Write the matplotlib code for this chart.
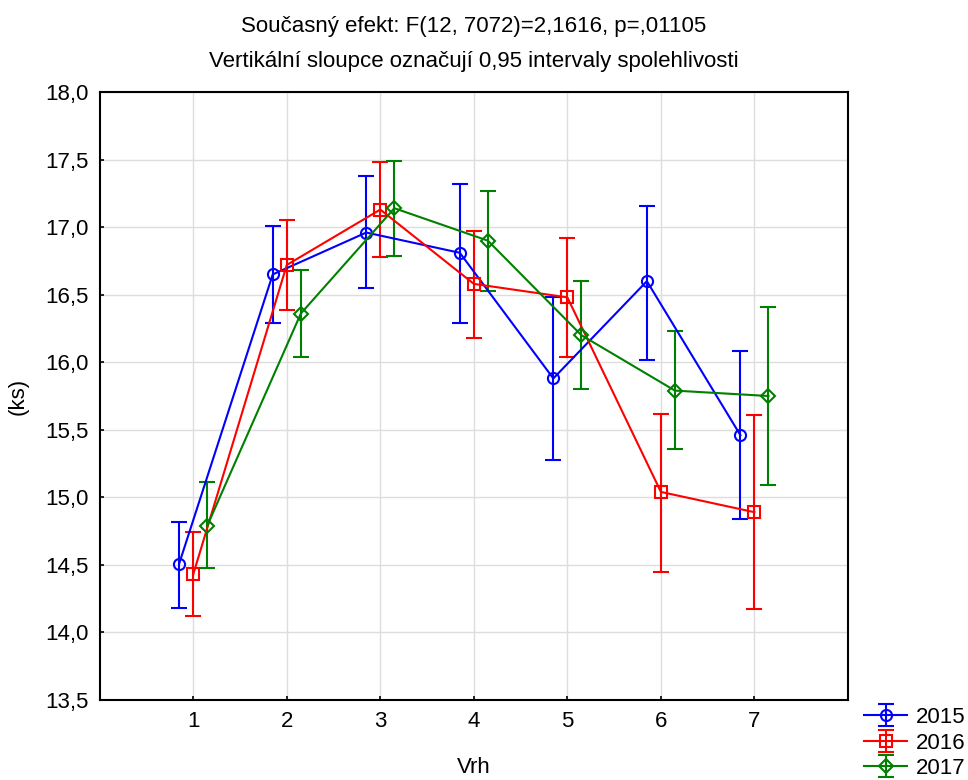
import matplotlib.pyplot as plt
import numpy as np

plt.rcParams['font.family'] = ['Liberation Sans', 'DejaVu Sans']

# Vrh (throw) categories
throws = [1, 2, 3, 4, 5, 6, 7]

# means and 0.95 confidence limits per year
mean_2015 = [14.51, 16.65, 16.96, 16.81, 15.88, 16.60, 15.46]
upper_2015 = [14.82, 17.01, 17.38, 17.32, 16.48, 17.16, 16.08]
lower_2015 = [14.18, 16.29, 16.55, 16.29, 15.28, 16.02, 14.84]

mean_2016 = [14.43, 16.72, 17.13, 16.58, 16.48, 15.04, 14.89]
upper_2016 = [14.74, 17.05, 17.48, 16.97, 16.92, 15.62, 15.61]
lower_2016 = [14.12, 16.39, 16.78, 16.18, 16.04, 14.45, 14.17]

mean_2017 = [14.79, 16.36, 17.14, 16.90, 16.20, 15.79, 15.75]
upper_2017 = [15.11, 16.68, 17.49, 17.27, 16.60, 16.23, 16.41]
lower_2017 = [14.48, 16.04, 16.79, 16.53, 15.80, 15.36, 15.09]

series = [
    ('2015', mean_2015, lower_2015, upper_2015, 'blue', 'o', -0.15),
    ('2016', mean_2016, lower_2016, upper_2016, 'red', 's', 0.0),
    ('2017', mean_2017, lower_2017, upper_2017, 'green', 'D', 0.15),
]

fig = plt.figure(figsize=(9.68, 7.8), dpi=100)
ax = fig.add_axes([0.103, 0.1026, 0.773, 0.7794])

for label, m, lo, hi, color, marker, shift in series:
    x = np.array(throws) + shift
    m = np.array(m)
    yerr = [m - np.array(lo), np.array(hi) - m]
    ax.errorbar(x, m, yerr=yerr, color=color, marker=marker,
                markersize=8 if marker != 'D' else 7, markerfacecolor='none',
                markeredgewidth=1.5, linewidth=1.5, elinewidth=1.5,
                capsize=6, capthick=1.5, label=label)

ax.set_xlim(0, 8)
ax.set_ylim(13.5, 18.0)
ax.set_xticks(throws)
yt = np.arange(13.5, 18.01, 0.5)
ax.set_yticks(yt)
ax.set_yticklabels([f'{v:.1f}'.replace('.', ',') for v in yt])
ax.tick_params(direction='in', length=3, labelsize=16, width=1.2, pad=8)
ax.grid(True, color='#dddddd', linewidth=1)
ax.set_axisbelow(True)
for s in ax.spines.values():
    s.set_linewidth(1.5)

ax.set_xlabel('Vrh', fontsize=16, labelpad=18)
ax.set_ylabel('(ks)', fontsize=16, labelpad=12)
ax.set_title('Současný efekt: F(12, 7072)=2,1616, p=,01105\n'
             'Vertikální sloupce označují 0,95 intervaly spolehlivosti',
             fontsize=16, pad=18, linespacing=1.9)

ax.legend(loc='lower left', bbox_to_anchor=(1.022, -0.13), frameon=False,
          fontsize=16, handlelength=1.9, labelspacing=0.2, handletextpad=0.4,
          borderaxespad=0, borderpad=0)

fig.savefig('out.png', dpi=100)
